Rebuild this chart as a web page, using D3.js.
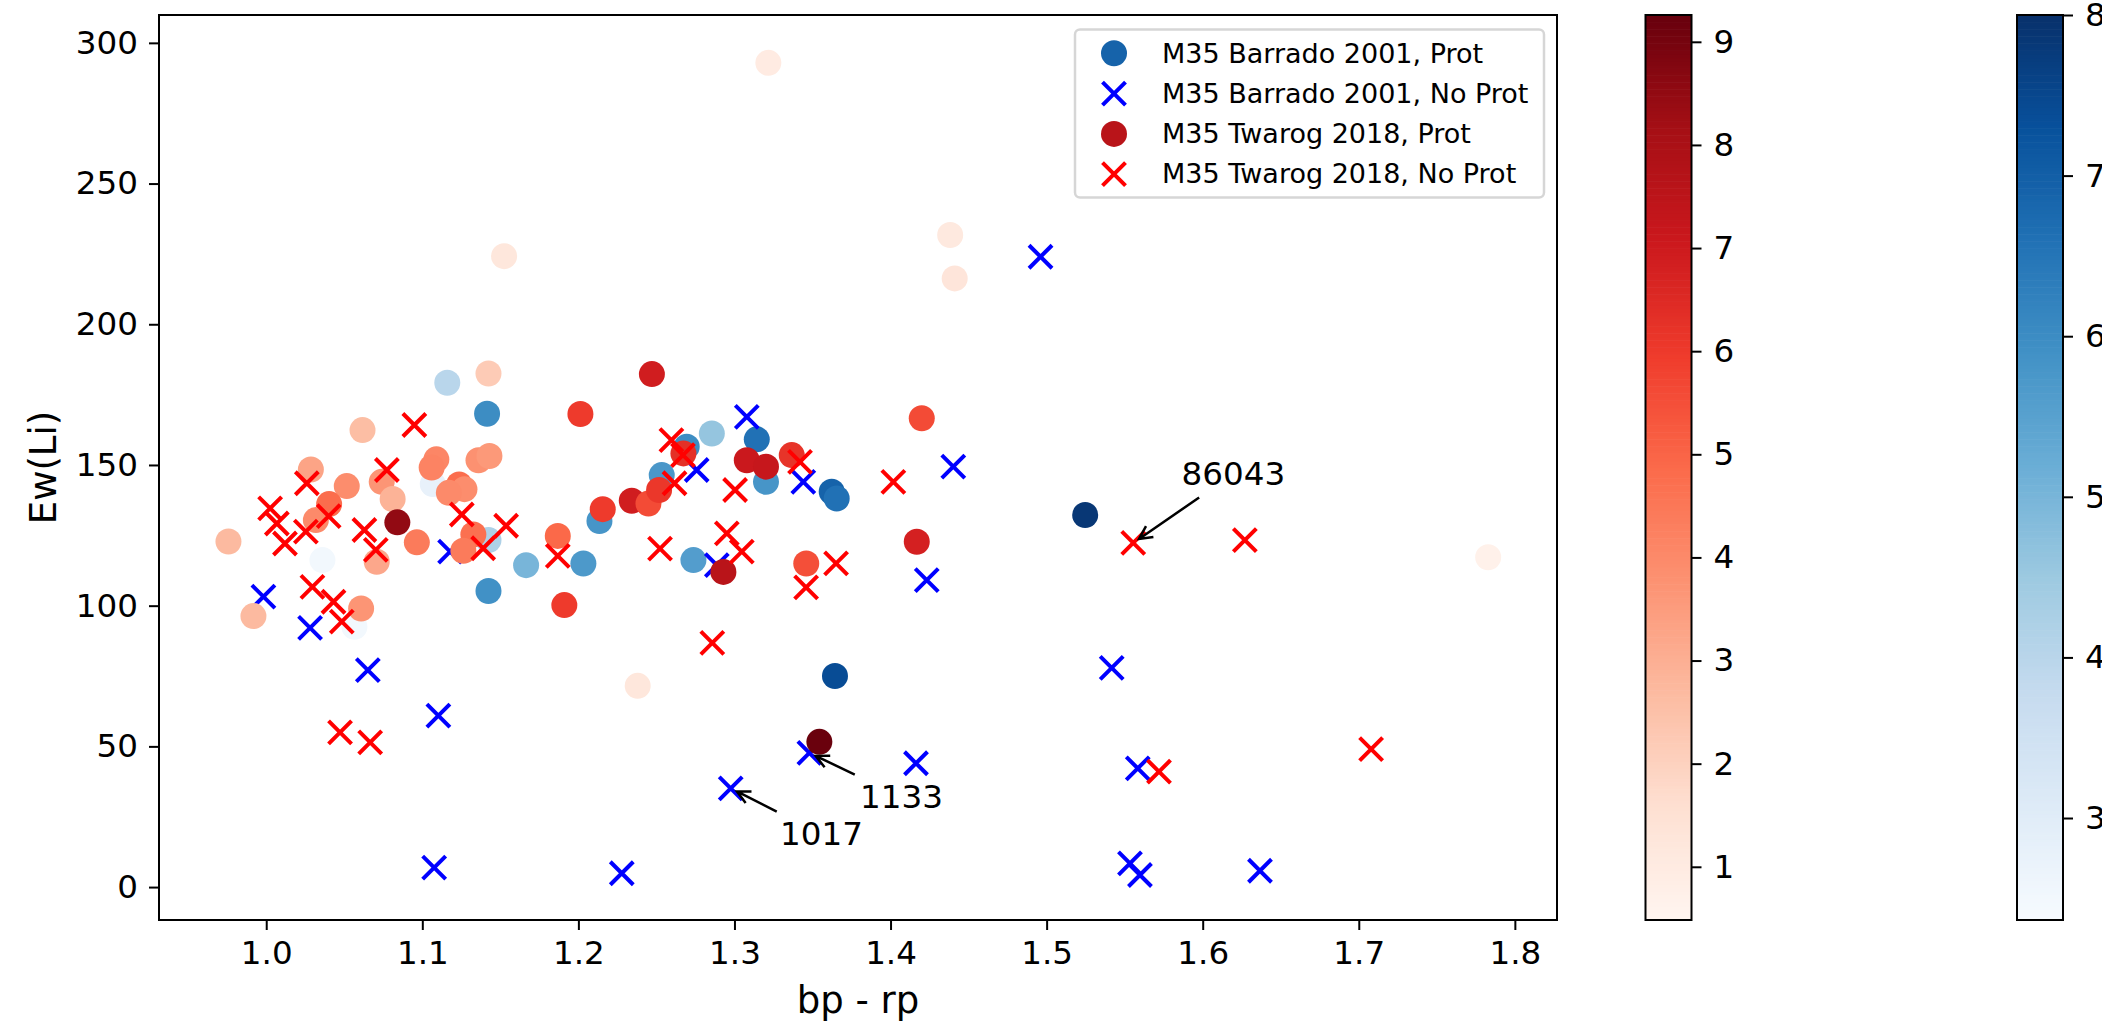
<!DOCTYPE html>
<html>
	<head>
		<meta charset="utf-8"/>
		<script type="text/javascript" src="https://cdn.jsdelivr.net/npm/d3@7/dist/d3.min.js"></script>
		<style>
			body {
				margin:0;
				background:#fff;
			}
			text {
				font-family:"DejaVu Sans", sans-serif;
				fill:#000;
			}
			.tick_label {
				font-size:32.6px;
			}
			.axis_label {
				font-size:37px;
				text-anchor:middle;
			}
			.legend_text {
				font-size:27px;
			}
			.ann_text {
				font-size:32.6px;
			}
		</style>
	</head>
	<body>
		<script>
			// Barrado 2001, with rotation period (circles, Blues)
			var barrado_prot_x = [1.3623, 1.116, 1.1415, 1.2855, 1.3143, 1.2694, 1.2534, 1.3202, 1.3655, 1.1067, 1.1424, 1.1665, 1.2032, 1.1424, 1.2135, 1.2737, 1.036, 1.0565, 1.3644, 1.5247];
			var barrado_prot_y = [140.5, 179.2, 168.2, 161.2, 159.1, 156.5, 146.4, 144.0, 138.1, 143.2, 123.3, 114.4, 115.0, 105.2, 130.1, 116.2, 116.2, 92.5, 75.0, 132.2];
			var barrado_prot_p = [6.9, 4.0, 6.0, 4.6, 6.6, 6.0, 5.75, 5.8, 6.6, 2.8, 4.2, 5.0, 5.7, 5.9, 5.8, 5.6, 2.5, 2.5, 7.4, 7.85];

			// Barrado 2001, no period (blue x)
			var barrado_noprot_x = [0.9982, 1.0281, 1.0651, 1.1103, 1.1076, 1.1178, 1.2278, 1.2758, 1.3079, 1.3441, 1.2887, 1.2976, 1.348, 1.4163, 1.4402, 1.4232, 1.4961, 1.5417, 1.5584, 1.5534, 1.5598, 1.6367];
			var barrado_noprot_y = [103.2, 92.1, 77.1, 60.9, 6.9, 119.2, 4.9, 148.2, 167.1, 144.0, 114.4, 35.1, 47.7, 44.0, 149.4, 109.1, 224.0, 77.9, 42.2, 8.4, 4.3, 5.8];

			// Twarog 2018, with rotation period (circles, Reds)
			var twarog_prot_x = [1.2929, 1.3217, 1.1524, 1.4382, 1.4411, 1.7829, 1.238, 1.1424, 1.2471, 1.2013, 1.0617, 1.0286, 1.0516, 1.074, 1.081, 1.109, 1.106, 1.136, 1.143, 1.1236, 1.127, 1.117, 1.0403, 1.0318, 0.9758, 1.0708, 1.084, 1.0965, 1.1327, 1.1263, 1.1868, 1.191, 1.2156, 1.2342, 1.2449, 1.2517, 1.2673, 1.3079, 1.3202, 1.3367, 0.9918, 1.0608, 1.346, 1.42, 1.4168, 1.3544];
			var twarog_prot_y = [112.0, 292.9, 224.2, 231.7, 216.3, 117.2, 71.5, 182.5, 182.3, 168.1, 162.4, 148.4, 142.5, 144.0, 137.9, 152.0, 149.1, 151.7, 153.2, 143.1, 141.4, 140.1, 136.1, 130.4, 122.8, 115.6, 129.6, 122.5, 125.3, 119.5, 124.8, 100.2, 134.3, 137.3, 136.3, 141.1, 154.1, 151.7, 149.4, 153.5, 96.3, 99.0, 115.0, 166.6, 122.7, 51.6];
			var twarog_prot_p = [7.6, 1.0, 1.2, 1.1, 1.3, 0.7, 1.2, 2.2, 6.9, 6.0, 2.6, 3.3, 3.9, 3.7, 2.9, 4.1, 4.2, 3.8, 3.6, 4.8, 3.9, 4.0, 4.8, 4.0, 2.7, 3.2, 8.5, 4.4, 4.7, 4.4, 4.9, 6.0, 6.0, 6.9, 5.6, 6.1, 6.3, 7.1, 7.2, 6.2, 2.7, 3.7, 5.5, 5.6, 6.8, 9.2];

			// Twarog 2018, no period (red x)
			var twarog_noprot_x = [1.0949, 1.026, 1.0773, 1.0025, 1.0068, 1.012, 1.0254, 1.04, 1.0629, 1.0702, 1.1253, 1.139, 1.1537, 1.1868, 1.2523, 1.2596, 1.267, 1.2616, 1.0296, 1.0431, 1.0484, 1.0473, 1.0666, 1.3004, 1.342, 1.2951, 1.3047, 1.3651, 1.3459, 1.4018, 1.2858, 1.5555, 1.627, 1.572, 1.7079];
			var twarog_noprot_y = [164.2, 143.5, 148.2, 134.6, 129.2, 122.1, 126.3, 131.8, 126.9, 119.8, 132.4, 120.4, 128.4, 117.7, 120.3, 158.8, 153.5, 143.5, 106.7, 101.4, 94.3, 55.0, 51.4, 141.1, 151.1, 125.7, 119.2, 115.0, 106.5, 144.0, 86.8, 122.3, 123.3, 41.0, 49.0];

			// annotated stars
			var ann_labels = ["86043", "1017", "1133"];
			var ann_x = [1.5555, 1.2976, 1.348];
			var ann_y = [122.3, 35.1, 47.7];
			var ann_text_x = [1.5864, 1.3292, 1.3805];
			var ann_text_y = [142.9, 14.9, 28.07];

			var x_ticks = [1.0, 1.1, 1.2, 1.3, 1.4, 1.5, 1.6, 1.7, 1.8];
			var y_ticks = [0, 50, 100, 150, 200, 250, 300];
			var red_ticks = [1, 2, 3, 4, 5, 6, 7, 8, 9];
			var blue_ticks = [3, 4, 5, 6, 7, 8];

			var x_domain = [0.9313, 1.827];
			var y_domain = [-11.7, 309.9];
			var red_range = [0.484, 9.26];
			var blue_range = [2.365, 8.0];

			var series_names = ["M35 Barrado 2001, Prot", "M35 Barrado 2001, No Prot", "M35 Twarog 2018, Prot", "M35 Twarog 2018, No Prot"];

			// layout
			var W = 2102, H = 1027;
			var ax = {left:159, right:1557, top:15, bottom:920};
			var cb_red = {left:1645.5, right:1691.5};
			var cb_blue = {left:2017, right:2063};
			var tick_len = 10;
			var dot_r = 13;
			var cross_h = 11.5;
			var cross_w = 4;

			var x = d3.scaleLinear().domain(x_domain).range([ax.left, ax.right]);
			var y = d3.scaleLinear().domain(y_domain).range([ax.bottom, ax.top]);

			function cmap(scheme) {
				return d3.scaleLinear()
					.domain(d3.range(9).map(function(i) { return i / 8; }))
					.range(scheme)
					.interpolate(d3.interpolateRgb)
					.clamp(true);
			}
			var reds = cmap(d3.schemeReds[9]);
			var blues = cmap(d3.schemeBlues[9]);
			function redColor(v) { return reds((v - red_range[0]) / (red_range[1] - red_range[0])); }
			function blueColor(v) { return blues((v - blue_range[0]) / (blue_range[1] - blue_range[0])); }

			function crossPath(h) {
				return "M" + (-h) + "," + (-h) + "L" + h + "," + h + "M" + (-h) + "," + h + "L" + h + "," + (-h);
			}

			var svg = d3.select("body").append("svg")
				.attr("width", W)
				.attr("height", H)
				.style("display", "block");
			svg.append("rect").attr("width", W).attr("height", H).attr("fill", "#fff");

			svg.append("clipPath").attr("id", "plotclip")
				.append("rect")
				.attr("x", ax.left).attr("y", ax.top)
				.attr("width", ax.right - ax.left).attr("height", ax.bottom - ax.top);

			var plot = svg.append("g").attr("clip-path", "url(#plotclip)");

			// Barrado prot
			plot.append("g").selectAll("circle")
				.data(d3.range(barrado_prot_x.length))
				.enter().append("circle")
				.attr("cx", function(i) { return x(barrado_prot_x[i]); })
				.attr("cy", function(i) { return y(barrado_prot_y[i]); })
				.attr("r", dot_r)
				.attr("fill", function(i) { return blueColor(barrado_prot_p[i]); });

			// Barrado no prot
			plot.append("g").selectAll("path")
				.data(d3.range(barrado_noprot_x.length))
				.enter().append("path")
				.attr("d", crossPath(cross_h))
				.attr("transform", function(i) { return "translate(" + x(barrado_noprot_x[i]) + "," + y(barrado_noprot_y[i]) + ")"; })
				.attr("stroke", "#0000ff")
				.attr("stroke-width", cross_w)
				.attr("fill", "none");

			// Twarog prot
			plot.append("g").selectAll("circle")
				.data(d3.range(twarog_prot_x.length))
				.enter().append("circle")
				.attr("cx", function(i) { return x(twarog_prot_x[i]); })
				.attr("cy", function(i) { return y(twarog_prot_y[i]); })
				.attr("r", dot_r)
				.attr("fill", function(i) { return redColor(twarog_prot_p[i]); });

			// Twarog no prot
			plot.append("g").selectAll("path")
				.data(d3.range(twarog_noprot_x.length))
				.enter().append("path")
				.attr("d", crossPath(cross_h))
				.attr("transform", function(i) { return "translate(" + x(twarog_noprot_x[i]) + "," + y(twarog_noprot_y[i]) + ")"; })
				.attr("stroke", "#ff0000")
				.attr("stroke-width", cross_w)
				.attr("fill", "none");

			// axes
			var xAxis = svg.append("g")
				.attr("transform", "translate(0," + ax.bottom + ")")
				.call(d3.axisBottom(x).tickValues(x_ticks).tickFormat(d3.format(".1f")).tickSize(tick_len).tickPadding(9));
			var yAxis = svg.append("g")
				.attr("transform", "translate(" + ax.left + ",0)")
				.call(d3.axisLeft(y).tickValues(y_ticks).tickFormat(d3.format("d")).tickSize(tick_len).tickPadding(11));
			[xAxis, yAxis].forEach(function(g) {
				g.select(".domain").remove();
				g.selectAll(".tick line").attr("stroke", "#000").attr("stroke-width", 2);
				g.selectAll(".tick text").attr("class", "tick_label").attr("font-family", null).attr("font-size", null);
			});
			xAxis.selectAll(".tick text").attr("dy", "0.76em");

			svg.append("rect")
				.attr("x", ax.left).attr("y", ax.top)
				.attr("width", ax.right - ax.left).attr("height", ax.bottom - ax.top)
				.attr("fill", "none").attr("stroke", "#000").attr("stroke-width", 2);

			svg.append("text")
				.attr("class", "axis_label")
				.attr("x", (ax.left + ax.right) / 2)
				.attr("y", 1013)
				.text("bp - rp");
			svg.append("text")
				.attr("class", "axis_label")
				.attr("transform", "translate(56," + (ax.top + ax.bottom) / 2 + ") rotate(-90)")
				.text("Ew(Li)");

			// annotations
			ann_labels.forEach(function(label, i) {
				var t = svg.append("text")
					.attr("class", "ann_text")
					.attr("x", x(ann_text_x[i]))
					.attr("y", y(ann_text_y[i]))
					.text(label);
				var bb = t.node().getBBox();
				var cx = bb.x + bb.width / 2, cy = bb.y + bb.height / 2;
				var px = x(ann_x[i]), py = y(ann_y[i]);
				var dx = px - cx, dy = py - cy;
				var len = Math.sqrt(dx * dx + dy * dy);
				var ux = dx / len, uy = dy / len;
				// leave the text box
				var tx = Math.abs(ux) > 1e-6 ? (bb.width / 2) / Math.abs(ux) : Infinity;
				var ty = Math.abs(uy) > 1e-6 ? (bb.height / 2) / Math.abs(uy) : Infinity;
				var s0 = Math.min(tx, ty) + 8;
				var sx = cx + ux * s0, sy = cy + uy * s0;
				var ex = px - ux * 7, ey = py - uy * 7;
				var hl = 13, hw = 6.5;
				svg.append("path")
					.attr("d", "M" + sx + "," + sy + "L" + ex + "," + ey +
						"M" + (ex - ux * hl - uy * hw) + "," + (ey - uy * hl + ux * hw) +
						"L" + ex + "," + ey +
						"L" + (ex - ux * hl + uy * hw) + "," + (ey - uy * hl - ux * hw))
					.attr("fill", "none")
					.attr("stroke", "#000")
					.attr("stroke-width", 2.5);
			});

			// legend
			var leg = svg.append("g");
			leg.append("rect")
				.attr("x", 1075).attr("y", 29.5)
				.attr("width", 469).attr("height", 168)
				.attr("rx", 5).attr("ry", 5)
				.attr("fill", "#fff").attr("fill-opacity", 0.8)
				.attr("stroke", "#d6d6d6").attr("stroke-width", 2.5);
			var leg_colors = [blueColor(barrado_prot_p[0]), "#0000ff", redColor(twarog_prot_p[0]), "#ff0000"];
			series_names.forEach(function(name, i) {
				var ry = 53.3 + i * 40.3;
				if (i % 2 === 0) {
					leg.append("circle").attr("cx", 1114).attr("cy", ry).attr("r", dot_r).attr("fill", leg_colors[i]);
				} else {
					leg.append("path").attr("d", crossPath(cross_h))
						.attr("transform", "translate(1114," + ry + ")")
						.attr("stroke", leg_colors[i]).attr("stroke-width", cross_w).attr("fill", "none");
				}
				leg.append("text").attr("class", "legend_text")
					.attr("x", 1162).attr("y", ry + 9.2)
					.text(name);
			});

			// colorbars
			function colorbar(box, range, ticks, color) {
				var sc = d3.scaleLinear().domain(range).range([ax.bottom, ax.top]);
				var n = 256;
				var g = svg.append("g");
				g.selectAll("rect.cb")
					.data(d3.range(n))
					.enter().append("rect")
					.attr("x", box.left)
					.attr("width", box.right - box.left)
					.attr("y", function(k) { return sc(range[0] + (k + 1) * (range[1] - range[0]) / n); })
					.attr("height", (ax.bottom - ax.top) / n + 0.6)
					.attr("fill", function(k) { return color(range[0] + (k + 0.5) * (range[1] - range[0]) / n); });
				g.append("rect")
					.attr("x", box.left).attr("y", ax.top)
					.attr("width", box.right - box.left).attr("height", ax.bottom - ax.top)
					.attr("fill", "none").attr("stroke", "#000").attr("stroke-width", 2);
				var a = g.append("g")
					.attr("transform", "translate(" + box.right + ",0)")
					.call(d3.axisRight(sc).tickValues(ticks).tickFormat(d3.format("d")).tickSize(tick_len).tickPadding(12));
				a.select(".domain").remove();
				a.selectAll(".tick line").attr("stroke", "#000").attr("stroke-width", 2);
				a.selectAll(".tick text").attr("class", "tick_label").attr("font-family", null).attr("font-size", null);
			}
			colorbar(cb_red, red_range, red_ticks, redColor);
			colorbar(cb_blue, blue_range, blue_ticks, blueColor);
		</script>
	</body>
</html>
